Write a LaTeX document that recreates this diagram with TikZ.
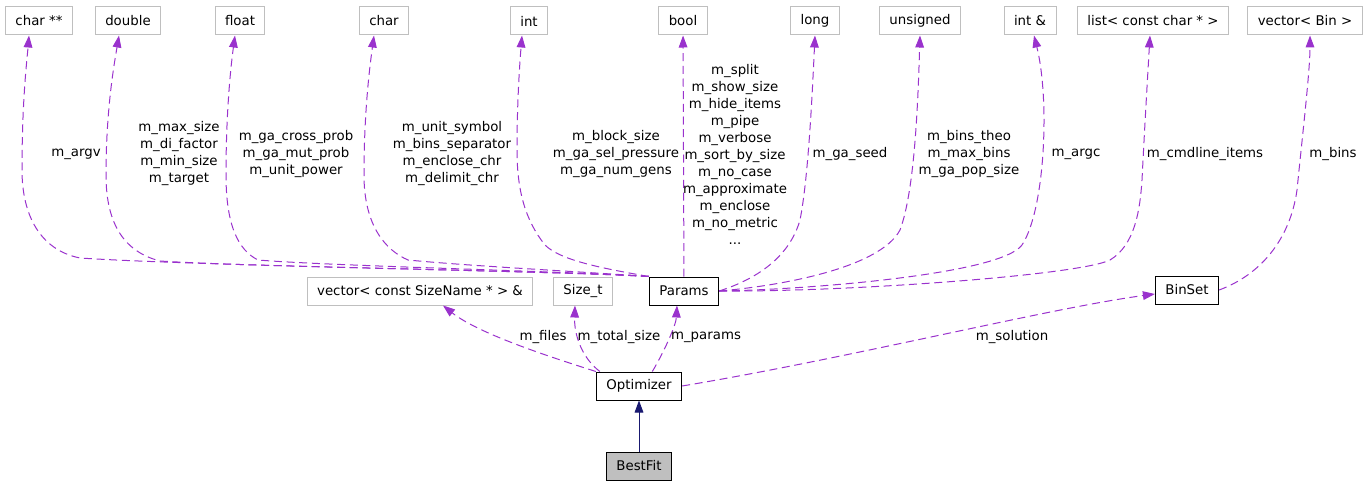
\documentclass[tikz,border=0pt]{standalone}
\usepackage{fontspec}
\setmainfont{DejaVu Sans}
\usepackage{tikz}
\usetikzlibrary{arrows.meta}
\definecolor{memberpurple}{HTML}{9A32CD}
\definecolor{basenavy}{HTML}{191970}
\definecolor{extgray}{HTML}{BFBFBF}

\begin{document}
\begin{tikzpicture}[
    x=0.75pt, y=-0.75pt,
    font=\fontsize{10}{12.75}\selectfont,
    typebox/.style={rectangle, draw=extgray, line width=0.75pt, minimum height=21pt, inner xsep=7.5pt, inner ysep=0pt},
    classbox/.style={rectangle, draw=black, line width=0.75pt, minimum height=21pt, inner xsep=7.5pt, inner ysep=0pt},
    member/.style={-{Triangle[length=9pt, width=6.5pt]}, draw=memberpurple, line width=0.75pt, dash pattern=on 6pt off 3.5pt},
    inherit/.style={-{Triangle[length=9pt, width=6.5pt]}, draw=basenavy, line width=0.75pt},
    lbl/.style={align=center, inner sep=0pt}
]
\useasboundingbox (0,0) rectangle (1367,485);

\node[typebox] (charpp) at (39,21) {char **};
\node[typebox] (dbl) at (128,21) {double};
\node[typebox] (flt) at (240,21) {float};
\node[typebox] (chr) at (384,21) {char};
\node[typebox] (int) at (529,21) {int};
\node[typebox] (bool) at (683,21) {bool};
\node[typebox] (long) at (815,21) {long};
\node[typebox] (unsgn) at (920,21) {unsigned};
\node[typebox] (intref) at (1030,21) {int \&};
\node[typebox] (cmdlist) at (1153,21) {list< const char * >};
\node[typebox] (binvec) at (1305,21) {vector< Bin >};

\node[typebox] (files) at (420,291) {vector< const SizeName * > \&};
\node[typebox] (sizet) at (583,291) {Size\_t};
\node[classbox] (params) at (684,291) {Params};
\node[classbox] (binset) at (1187,290) {BinSet};
\node[classbox] (optim) at (639,386) {Optimizer};
\node[classbox, fill=extgray] (bestfit) at (639,466) {BestFit};

\draw[member] (params.north west) .. controls (560,271) and (200,266) .. (80,258) .. controls (40,250) and (22,215) .. (22,170) .. controls (22,100) and (27,60) .. ([xshift=-7.5pt]charpp.south);
\draw[member] (params.north west) .. controls (560,271) and (250,267) .. (160,261) .. controls (125,252) and (106,225) .. (106,175) .. controls (106,110) and (114,65) .. ([xshift=-6.75pt]dbl.south);
\draw[member] (params.north west) .. controls (560,271) and (330,266) .. (258,260) .. controls (238,250) and (226,225) .. (226,175) .. controls (226,110) and (231,65) .. ([xshift=-3.75pt]flt.south);
\draw[member] (params.north west) .. controls (570,271) and (470,266) .. (408,260) .. controls (385,250) and (364,225) .. (364,175) .. controls (364,110) and (370,65) .. ([xshift=-7.5pt]chr.south);
\draw[member] (params.north west) .. controls (600,268) and (560,260) .. (545,245) .. controls (525,220) and (517,190) .. (517,150) .. controls (517,100) and (520,60) .. ([xshift=-5.25pt]int.south);
\draw[member] (params) -- (bool);
\draw[member] (params.east) .. controls (760,278) and (790,255) .. (800,220) .. controls (808,180) and (812,100) .. (long.south);
\draw[member] (params.east) .. controls (780,286) and (880,268) .. (900,230) .. controls (915,190) and (918,100) .. (unsgn.south);
\draw[member] (params.east) .. controls (800,290) and (1000,275) .. (1022,245) .. controls (1045,210) and (1050,100) .. ([xshift=3pt]intref.south);
\draw[member] (params.east) .. controls (850,292) and (1080,275) .. (1110,260) .. controls (1135,245) and (1140,210) .. (1142,180) .. controls (1145,120) and (1148,70) .. ([xshift=-2.25pt]cmdlist.south);
\draw[member] (binset.east) .. controls (1260,275) and (1290,240) .. (1297,190) .. controls (1303,130) and (1310,70) .. ([xshift=3.75pt]binvec.south);

\draw[member] (optim.north west) .. controls (560,360) and (480,335) .. ([xshift=17.25pt]files.south);
\draw[member] ([xshift=3pt]optim.north west) .. controls (582,358) and (574,335) .. ([xshift=-6pt]sizet.south);
\draw[member] ([xshift=10pt]optim.north) .. controls (665,350) and (676,325) .. ([xshift=-5.25pt]params.south);
\draw[member] (optim.east) .. controls (850,358) and (1050,308) .. ([yshift=-3pt]binset.west);
\draw[inherit] (bestfit) -- (optim);

\node[lbl] (lblargv) at (76,154) {m\_argv};
\node[lbl] (lbldbl) at (179,154) {m\_max\_size\\m\_di\_factor\\m\_min\_size\\m\_target};
\node[lbl] (lblflt) at (296,154) {m\_ga\_cross\_prob\\m\_ga\_mut\_prob\\m\_unit\_power};
\node[lbl] (lblchr) at (452,154) {m\_unit\_symbol\\m\_bins\_separator\\m\_enclose\_chr\\m\_delimit\_chr};
\node[lbl] (lblint) at (616,154) {m\_block\_size\\m\_ga\_sel\_pressure\\m\_ga\_num\_gens};
\node[lbl] (lblbool) at (735,154) {m\_split\\m\_show\_size\\m\_hide\_items\\m\_pipe\\m\_verbose\\m\_sort\_by\_size\\m\_no\_case\\m\_approximate\\m\_enclose\\m\_no\_metric\\...};
\node[lbl] (lbllong) at (850,154) {m\_ga\_seed};
\node[lbl] (lblunsgn) at (969,154) {m\_bins\_theo\\m\_max\_bins\\m\_ga\_pop\_size};
\node[lbl] (lblargc) at (1076,154) {m\_argc};
\node[lbl] (lblcmd) at (1205,154) {m\_cmdline\_items};
\node[lbl] (lblbins) at (1333,154) {m\_bins};
\node[lbl] (lblfiles) at (543,337) {m\_files};
\node[lbl] (lbltotal) at (619,337) {m\_total\_size};
\node[lbl] (lblparams) at (706,337) {m\_params};
\node[lbl] (lblsol) at (1012,337) {m\_solution};
\end{tikzpicture}
\end{document}
